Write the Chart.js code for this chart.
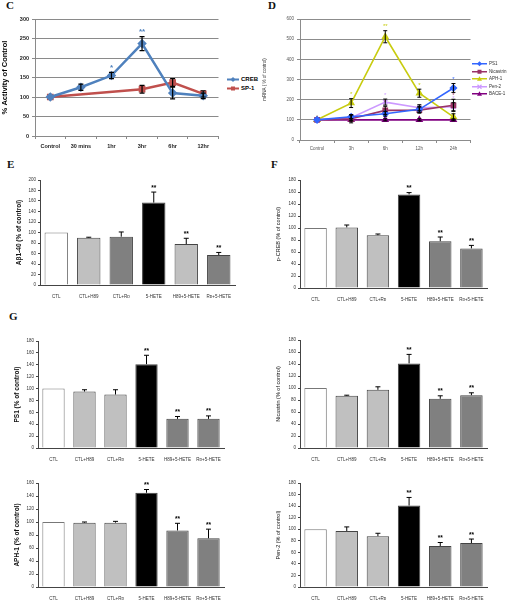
<!DOCTYPE html>
<html>
<head>
<meta charset="utf-8">
<script src="https://cdn.jsdelivr.net/npm/chart.js@4.4.0/dist/chart.umd.min.js"></script>
<style>
  body { margin: 0; background: #fff; }
  #fig { position: relative; width: 509px; height: 600px; overflow: hidden; font-family: "Liberation Sans", Arial, sans-serif; }
  #fig canvas { position: absolute; }
  .letter { position: absolute; font: bold 11px "Liberation Serif", "Times New Roman", serif; line-height: 11px; color: #111; }
  .legend { position: absolute; }
  .legend .row { position: relative; white-space: nowrap; }
  .legend svg { position: absolute; left: 0; }
</style>
</head>
<body>
<div id="fig">
  <div class="letter" style="left:6px;top:0px">C</div>
  <div class="letter" style="left:268px;top:0px">D</div>
  <div class="letter" style="left:7px;top:159px">E</div>
  <div class="letter" style="left:271px;top:159px">F</div>
  <div class="letter" style="left:9px;top:311px">G</div>

  <canvas id="chartC" width="225" height="145" style="left:0px;top:12px"></canvas>
  <canvas id="chartD" width="214" height="140" style="left:262px;top:12px"></canvas>
  <canvas id="chartE" width="225" height="124" style="left:15px;top:174px"></canvas>
  <canvas id="chartF" width="217" height="127" style="left:275px;top:174px"></canvas>
  <canvas id="chartPS1" width="216" height="126" style="left:13px;top:335px"></canvas>
  <canvas id="chartNic" width="217" height="127" style="left:275px;top:334px"></canvas>
  <canvas id="chartAPH" width="216" height="123" style="left:13px;top:477px"></canvas>
  <canvas id="chartPen" width="217" height="123" style="left:275px;top:477px"></canvas>

  <div class="legend" id="legendC" style="left:227px;top:75px;font:bold 6px 'Liberation Sans',Arial,sans-serif;"></div>
  <div class="legend" id="legendD" style="left:472px;top:60px;font:4.5px 'Liberation Sans',Arial,sans-serif;color:#333;"></div>
</div>

<script>
// ---- panel C: promoter activity ----
const cLabels = ['Control', '30 mins', '1hr', '3hr', '6hr', '12hr'];
const crebValues = [100, 125, 155, 237, 110, 103];
const crebErr = [0, 8, 8, 18, 15, 7];
const crebStars = ['', '', '*', '**', '', ''];
const sp1Values = [100, null, null, 120, 137, 108];
const sp1Err = [0, 0, 0, 10, 10, 8];
const cTicks = [0, 50, 100, 150, 200, 250, 300];

// ---- panel D: mRNA time course ----
const dLabels = ['Control', '3h', '6h', '12h', '24h'];
const ps1Values = [100, 115, 130, 152, 258];
const ps1Err = [0, 10, 12, 15, 22];
const ps1Stars = ['', '', '', '', '*'];
const nicValues = [100, 105, 147, 148, 172];
const nicErr = [0, 20, 20, 15, 30];
const nicStars = ['', '', '*', '', '*'];
const aphValues = [100, 183, 512, 232, 115];
const aphErr = [0, 22, 30, 20, 15];
const aphStars = ['', '*', '**', '*', ''];
const penValues = [100, 110, 188, 160, 165];
const penErr = [0, 15, 15, 15, 20];
const penStars = ['', '', '*', '', '*'];
const baceValues = [100, 100, 100, 100, 100];
const baceErr = [0, 5, 5, 5, 5];

// ---- bar panels E, F, G ----
const barLabels = ['CTL', 'CTL+H89', 'CTL+Rp', '5-HETE', 'H89+5-HETE', 'Rp+5-HETE'];
const barStars = ['', '', '', '**', '**', '**'];
const abValues = [100, 90, 92, 157, 78, 57];
const abErr = [0, 1, 9, 20, 11, 5];
const pcrebValues = [100, 101, 88, 156, 78, 66];
const pcrebErr = [0, 4, 2, 3, 7, 5];
const ps1BarValues = [100, 95, 90, 141, 49, 49];
const ps1BarErr = [0, 3, 8, 15, 4, 5];
const nicBarValues = [100, 87, 97, 141, 82, 88];
const nicBarErr = [0, 1, 5, 15, 5, 4];
const aphBarValues = [100, 99, 99, 145, 87, 75];
const aphBarErr = [0, 1, 2, 5, 11, 14];
const penBarValues = [100, 97, 88, 141, 71, 76];
const penBarErr = [0, 7, 5, 14, 6, 7];

const WHITE = '#ffffff', LIGHT = '#c0c0c0', DARK = '#808080', BLACK = '#000000';
const colorsE = [WHITE, LIGHT, DARK, BLACK, LIGHT, DARK];
const colorsG = [WHITE, LIGHT, LIGHT, BLACK, DARK, DARK];

// error bars + significance stars, drawn from the data through the y scale
const errorBarPlugin = {
    id: 'errorBars',
    afterDatasetsDraw(chart, args, opts) {
        const ctx = chart.ctx;
        const yScale = chart.scales.y;
        chart.data.datasets.forEach((ds, di) => {
            if (!ds.errors) return;
            const meta = chart.getDatasetMeta(di);
            ds.data.forEach((v, i) => {
                if (v == null) return;
                const e = ds.errors[i] || 0;
                const x = meta.data[i].x;
                const top = yScale.getPixelForValue(v + e);
                const bot = yScale.getPixelForValue(opts.upOnly ? v : v - e);
                const cap = opts.cap || 3;
                ctx.save();
                if (e > 0) {
                    ctx.strokeStyle = '#000';
                    ctx.lineWidth = opts.lineWidth || 1;
                    ctx.beginPath();
                    ctx.moveTo(x, top); ctx.lineTo(x, bot);
                    ctx.moveTo(x - cap, top); ctx.lineTo(x + cap, top);
                    if (!opts.upOnly) { ctx.moveTo(x - cap, bot); ctx.lineTo(x + cap, bot); }
                    ctx.stroke();
                }
                const s = ds.stars && ds.stars[i];
                if (s) {
                    ctx.fillStyle = ds.starColor || '#000';
                    ctx.font = opts.starFont || 'bold 7px "Liberation Sans", Arial, sans-serif';
                    ctx.textAlign = 'center';
                    ctx.textBaseline = 'bottom';
                    ctx.fillText(s, x + (opts.starDx || 0), top - 1);
                }
                ctx.restore();
            });
        });
    }
};

function fixWidth(w) { return function (scale) { scale.width = w; }; }
function fixHeight(h) { return function (scale) { scale.height = h; }; }

function initChartC() {
    new Chart(document.getElementById('chartC'), {
        type: 'line',
        data: {
            labels: cLabels,
            datasets: [{
                label: 'CREB',
                data: crebValues,
                errors: crebErr,
                stars: crebStars,
                starColor: '#4f81bd',
                borderColor: '#4f81bd',
                backgroundColor: '#4f81bd',
                borderWidth: 2.5,
                pointStyle: 'rectRot',
                pointRadius: 3,
                tension: 0
            }, {
                label: 'SP-1',
                data: sp1Values,
                errors: sp1Err,
                borderColor: '#c0504d',
                backgroundColor: '#c0504d',
                borderWidth: 2.5,
                pointStyle: 'rect',
                pointRadius: 3,
                spanGaps: true,
                tension: 0
            }]
        },
        options: {
            responsive: false,
            animation: false,
            layout: { padding: { top: 7, right: 5, left: 0, bottom: 0 } },
            plugins: {
                legend: { display: false },
                tooltip: { enabled: false },
                errorBars: { cap: 2.5, lineWidth: 1.2, starFont: 'bold 8px "Liberation Sans", Arial, sans-serif' }
            },
            scales: {
                y: {
                    min: 0, max: 300,
                    afterBuildTicks: s => { s.ticks = cTicks.map(v => ({ value: v })); },
                    afterFit: fixWidth(35),
                    title: { display: true, text: '% Activity of Control', color: '#000', font: { size: 7.5, weight: 'bold' }, padding: 0 },
                    ticks: { color: '#222', font: { size: 5.5, weight: 'bold' }, padding: 3 },
                    grid: { color: '#8a8a8a', lineWidth: 1, tickLength: 3 },
                    border: { color: '#8a8a8a' }
                },
                x: {
                    offset: true,
                    afterFit: fixHeight(21),
                    ticks: { color: '#222', font: { size: 5.5, weight: 'bold' }, padding: 4, maxRotation: 0 },
                    grid: { drawOnChartArea: false, offset: true, color: '#8a8a8a', tickLength: 3 },
                    border: { color: '#8a8a8a' }
                }
            }
        },
        plugins: [errorBarPlugin]
    });
}

function initChartD() {
    const series = [
        ['PS1', ps1Values, ps1Err, ps1Stars, '#3366ff', 'rectRot'],
        ['Nicastrin', nicValues, nicErr, nicStars, '#993366', 'rect'],
        ['APH-1', aphValues, aphErr, aphStars, '#c8cc10', 'triangle'],
        ['Pen-2', penValues, penErr, penStars, '#cc99ff', 'crossRot'],
        ['BACE-1', baceValues, baceErr, null, '#800080', 'triangle']
    ];
    new Chart(document.getElementById('chartD'), {
        type: 'line',
        data: {
            labels: dLabels,
            datasets: series.map(s => ({
                label: s[0], data: s[1], errors: s[2], stars: s[3], starColor: s[4],
                borderColor: s[4], backgroundColor: s[4], borderWidth: 1.6,
                pointStyle: s[5], pointRadius: 3, pointBorderWidth: 1.5, tension: 0
            }))
        },
        options: {
            responsive: false,
            animation: false,
            layout: { padding: { top: 7, right: 5, left: 0, bottom: 0 } },
            plugins: {
                legend: { display: false },
                tooltip: { enabled: false },
                errorBars: { cap: 2, lineWidth: 1, starFont: '6px "Liberation Sans", Arial, sans-serif' }
            },
            scales: {
                y: {
                    min: 0, max: 600,
                    afterFit: fixWidth(38),
                    title: { display: true, text: 'mRNA ( % of control)', color: '#333', font: { size: 4.5 }, padding: 0 },
                    ticks: { stepSize: 100, color: '#555', font: { size: 4.5 }, padding: 3 },
                    grid: { color: '#8c8c8c', tickLength: 3 },
                    border: { color: '#8c8c8c' }
                },
                x: {
                    offset: true,
                    afterFit: fixHeight(12),
                    ticks: { color: '#555', font: { size: 4.5 }, padding: 3, maxRotation: 0 },
                    grid: { drawOnChartArea: false, offset: true, color: '#8c8c8c', tickLength: 3 },
                    border: { color: '#8c8c8c' }
                }
            }
        },
        plugins: [errorBarPlugin]
    });
    buildLegend('legendD', series.map(s => ({ label: s[0], color: s[4], marker: s[5] })), 15, 7.5, 17);
}

function barPanel(id, values, errors, colors, title, max, boldTitle) {
    new Chart(document.getElementById(id), {
        type: 'bar',
        data: {
            labels: barLabels,
            datasets: [{
                data: values,
                errors: errors,
                stars: barStars,
                backgroundColor: colors,
                borderColor: colors.map(c => c === WHITE ? '#777' : '#444'),
                borderWidth: 1,
                barPercentage: 0.72,
                categoryPercentage: 1
            }]
        },
        options: {
            responsive: false,
            animation: false,
            layout: { padding: { top: 6, right: 5, left: 0, bottom: 0 } },
            plugins: {
                legend: { display: false },
                tooltip: { enabled: false },
                errorBars: { upOnly: true, cap: 2.5, lineWidth: 1, starFont: 'bold 6.5px "Liberation Sans", Arial, sans-serif' }
            },
            scales: {
                y: {
                    min: 0, max: max,
                    afterFit: fixWidth(25),
                    title: {
                        display: true, text: title, color: '#111', padding: 0,
                        font: { size: boldTitle ? 6.5 : 5.5, weight: boldTitle ? 'bold' : 'normal' }
                    },
                    ticks: { stepSize: 20, color: '#333', font: { size: 4.5 }, padding: 2 },
                    grid: { drawOnChartArea: false, color: '#444', tickLength: 2 },
                    border: { color: '#444' }
                },
                x: {
                    afterFit: fixHeight(13),
                    ticks: { color: '#333', font: { size: 4.5 }, padding: 1, maxRotation: 0, autoSkip: false },
                    grid: { display: false },
                    border: { color: '#444' }
                }
            }
        },
        plugins: [errorBarPlugin]
    });
}

// legend rows: a short line with the series marker, then the label
function buildLegend(id, items, lineLen, rowH, textLeft) {
    const box = document.getElementById(id);
    items.forEach(it => {
        const row = document.createElement('div');
        row.className = 'row';
        row.style.height = rowH + 'px';
        row.style.lineHeight = rowH + 'px';
        row.style.paddingLeft = textLeft + 'px';
        const m = lineLen / 2, c = rowH / 2;
        let mark = '';
        if (it.marker === 'rect') mark = `<rect x="${m - 2}" y="${c - 2}" width="4" height="4" fill="${it.color}"/>`;
        else if (it.marker === 'rectRot') mark = `<polygon points="${m},${c - 2.5} ${m + 2.5},${c} ${m},${c + 2.5} ${m - 2.5},${c}" fill="${it.color}"/>`;
        else if (it.marker === 'triangle') mark = `<polygon points="${m},${c - 2.5} ${m + 2.5},${c + 2} ${m - 2.5},${c + 2}" fill="${it.color}"/>`;
        else mark = `<path d="M${m - 2} ${c - 2}L${m + 2} ${c + 2}M${m + 2} ${c - 2}L${m - 2} ${c + 2}" stroke="${it.color}" stroke-width="1.2"/>`;
        row.innerHTML = `<svg width="${lineLen}" height="${rowH}" style="top:0"><line x1="0" y1="${c}" x2="${lineLen}" y2="${c}" stroke="${it.color}" stroke-width="${it.width || 1.5}"/>${mark}</svg>${it.label}`;
        box.appendChild(row);
    });
}

document.addEventListener('DOMContentLoaded', () => {
    initChartC();
    buildLegend('legendC', [
        { label: 'CREB', color: '#4f81bd', marker: 'rectRot', width: 2 },
        { label: 'SP-1', color: '#c0504d', marker: 'rect', width: 2 }
    ], 12, 9, 14);
    initChartD();
    barPanel('chartE', abValues, abErr, colorsE, 'A\u03b21-40 (% of control)', 200, true);
    barPanel('chartF', pcrebValues, pcrebErr, colorsG, 'p-CREB (% of control)', 180, false);
    barPanel('chartPS1', ps1BarValues, ps1BarErr, colorsG, 'PS1 (% of control)', 180, true);
    barPanel('chartNic', nicBarValues, nicBarErr, colorsG, 'Nicastrin (% of control)', 180, false);
    barPanel('chartAPH', aphBarValues, aphBarErr, colorsG, 'APH-1 (% of control)', 160, true);
    barPanel('chartPen', penBarValues, penBarErr, colorsG, 'Pen-2 (% of control)', 180, false);
});
</script>
</body>
</html>
